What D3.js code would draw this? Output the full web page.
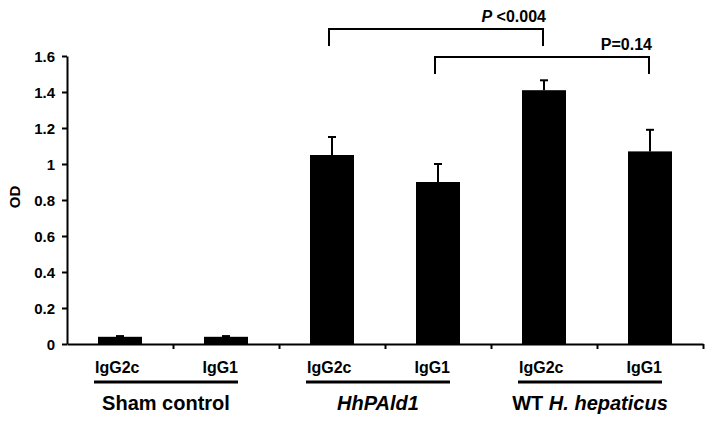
<!DOCTYPE html>
<html>
<head>
<meta charset="utf-8">
<script src="https://cdn.jsdelivr.net/npm/d3@7"></script>
<style>
  body { margin: 0; background: #fff; }
  svg { display: block; font-family: "Liberation Sans", Arial, sans-serif; font-weight: bold; }
</style>
</head>
<body>
<div id="chart"></div>
<script>
// data
const groups = ["Sham control", "HhPAld1", "WT H. hepaticus"];
const isotypes = ["IgG2c", "IgG1"];
const odMeans = [0.04, 0.04, 1.05, 0.90, 1.41, 1.07];
const odErrors = [0.004, 0.004, 0.10, 0.10, 0.055, 0.12];
const yTickValues = [0, 0.2, 0.4, 0.6, 0.8, 1, 1.2, 1.4, 1.6];
const yTickLabels = ["0", "0.2", "0.4", "0.6", "0.8", "1", "1.2", "1.4", "1.6"];
const compFrom = [2, 3];
const compTo = [4, 5];
const compLabels = ["P <0.004", "P=0.14"];

const width = 712, height = 421;
const plotLeft = 67, plotRight = 703, plotTop = 56, plotBottom = 344;

const svg = d3.select("#chart").append("svg")
  .attr("width", width)
  .attr("height", height);

const bars = odMeans.map((v, i) => ({
  i: i,
  group: groups[Math.floor(i / 2)],
  iso: isotypes[i % 2],
  mean: v,
  err: odErrors[i]
}));

const x = d3.scaleBand()
  .domain(d3.range(bars.length))
  .range([plotLeft, plotRight])
  .paddingInner(0.585)
  .paddingOuter(0.2925);

const xEdge = d3.scaleLinear().domain([0, bars.length]).range([plotLeft, plotRight]);

const y = d3.scaleLinear().domain([0, 1.6]).range([plotBottom, plotTop]);

// y axis
const yAxis = svg.append("g")
  .attr("transform", `translate(${plotLeft},0)`)
  .call(d3.axisLeft(y)
    .tickValues(yTickValues)
    .tickFormat((d, i) => yTickLabels[i])
    .tickSize(5)
    .tickSizeOuter(0)
    .tickPadding(7));
yAxis.select(".domain").attr("stroke-width", 2);
yAxis.selectAll(".tick line").attr("stroke-width", 2);
yAxis.selectAll(".tick text")
  .attr("font-size", 15)
  .attr("font-family", "Liberation Sans, Arial, sans-serif")
  .attr("font-weight", "bold")
  .attr("dy", "0.36em");

svg.append("text")
  .attr("transform", `translate(20,${(plotTop + plotBottom) / 2 - 3}) rotate(-90)`)
  .attr("text-anchor", "middle")
  .attr("font-size", 15)
  .text("OD");

// bars
svg.append("g").selectAll("rect")
  .data(bars)
  .enter()
  .append("rect")
  .attr("x", d => x(d.i))
  .attr("width", x.bandwidth())
  .attr("y", d => y(d.mean))
  .attr("height", d => y(0) - y(d.mean))
  .attr("fill", "#000");

// error bars (upper only)
const eb = svg.append("g").attr("stroke", "#000").attr("stroke-width", 2);
bars.forEach(d => {
  const cx = x(d.i) + x.bandwidth() / 2;
  eb.append("line")
    .attr("x1", cx).attr("x2", cx)
    .attr("y1", y(d.mean)).attr("y2", y(d.mean + d.err));
  eb.append("line")
    .attr("x1", cx - 4).attr("x2", cx + 4)
    .attr("y1", y(d.mean + d.err)).attr("y2", y(d.mean + d.err));
});

// x axis
const xAxis = svg.append("g")
  .attr("transform", `translate(0,${plotBottom})`)
  .call(d3.axisBottom(xEdge)
    .tickValues(d3.range(1, bars.length + 1))
    .tickFormat("")
    .tickSize(5)
    .tickSizeOuter(0));
xAxis.select(".domain").attr("stroke-width", 2);
xAxis.selectAll(".tick line").attr("stroke-width", 2);

// isotype labels and group labels
const labelY = 373, lineY = 382, groupY = 410;
groups.forEach((g, gi) => {
  const c2 = x(gi * 2) + x.bandwidth() / 2;
  const c1 = x(gi * 2 + 1) + x.bandwidth() / 2;
  svg.append("text")
    .attr("x", c2 - 25).attr("y", labelY)
    .attr("font-size", 16)
    .text(isotypes[0]);
  svg.append("text")
    .attr("x", c1 + 12).attr("y", labelY)
    .attr("text-anchor", "end")
    .attr("font-size", 16)
    .text(isotypes[1]);
  const x0 = c2 - 26, x1 = c1 + 12;
  svg.append("line")
    .attr("x1", x0).attr("x2", x1)
    .attr("y1", lineY).attr("y2", lineY)
    .attr("stroke", "#000").attr("stroke-width", 3);
  const gt = svg.append("text")
    .attr("x", (x0 + x1) / 2).attr("y", groupY)
    .attr("text-anchor", "middle")
    .attr("font-size", 20);
  if (g === "HhPAld1") {
    gt.attr("font-style", "italic").text(g);
  } else if (g.startsWith("WT ")) {
    gt.append("tspan").text("WT ");
    gt.append("tspan").attr("font-style", "italic").text(g.slice(3));
  } else {
    gt.text(g);
  }
});

// significance brackets
compLabels.forEach((lab, k) => {
  const xa = x(compFrom[k]) + x.bandwidth() / 2;
  const xb = x(compTo[k]) + x.bandwidth() / 2;
  const yTop = 29 + k * 28, legs = 17;
  svg.append("path")
    .attr("d", `M${xa - 3},${yTop + legs}V${yTop}H${xb - 1}V${yTop + legs}`)
    .attr("fill", "none")
    .attr("stroke", "#000")
    .attr("stroke-width", 2);
  const t = svg.append("text")
    .attr("x", xb + 2).attr("y", yTop - 7)
    .attr("text-anchor", "end")
    .attr("font-size", 16);
  if (lab.startsWith("P ")) {
    t.append("tspan").attr("font-style", "italic").text("P");
    t.append("tspan").text(lab.slice(1));
  } else {
    t.text(lab);
  }
});
</script>
</body>
</html>
